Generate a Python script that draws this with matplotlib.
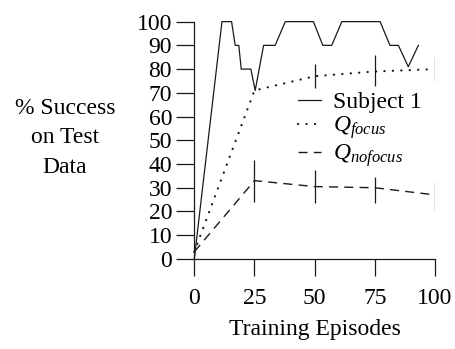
import matplotlib
matplotlib.use("Agg")
import matplotlib.pyplot as plt

plt.rcParams["font.family"] = ["Liberation Serif", "DejaVu Serif"]
plt.rcParams["mathtext.fontset"] = "custom"
plt.rcParams["mathtext.rm"] = "Liberation Serif"
plt.rcParams["mathtext.it"] = "Liberation Serif:italic"

# Subject 1 (solid)
subj_x = [0, 11.5, 15.5, 17, 18.5, 19.5, 23.5, 25.3, 28.8, 33.6, 37.8,
          49.5, 53.4, 57.1, 61.3, 77.2, 81.3, 84.8, 88.9, 93.1]
subj_y = [0, 100, 100, 90, 90, 80, 80, 71, 90, 90, 100,
          100, 90, 90, 100, 100, 90, 90, 81, 90]

# Q_focus (dotted)
focus_x = [0, 25, 50, 75, 100]
focus_y = [3, 71, 77, 79, 80]
focus_err_x = [50, 75, 100]
focus_err_lo = [72, 73, 75]
focus_err_hi = [82, 86, 85]

# Q_nofocus (dashed)
nofocus_x = [0, 25, 50, 75, 100]
nofocus_y = [3, 33, 30.5, 30, 27]
nofocus_err_lo = [24, 23.5, 23.5, 20.5]
nofocus_err_hi = [41.5, 37.5, 34.5, 32.5]

fig = plt.figure(figsize=(4.55, 3.49), dpi=100)
ax = fig.add_axes([0.427, 0.258, 0.529, 0.68])

c = "#1a1a1a"
ax.plot(subj_x, subj_y, color=c, lw=0.9, clip_on=False, label="Subject 1")
ax.plot(focus_x, focus_y, color=c, lw=1.6, linestyle=(0, (0.1, 3.7)),
        dash_capstyle="round", clip_on=False, label="$Q_{focus}$")
ax.plot(nofocus_x, nofocus_y, color=c, lw=1.0, linestyle=(0, (6.5, 4.5)),
        clip_on=False, label="$Q_{nofocus}$")

ax.vlines(focus_err_x, focus_err_lo, focus_err_hi, color=c, lw=0.9)
ax.vlines(nofocus_x[1:], nofocus_err_lo, nofocus_err_hi, color=c, lw=0.9)

ax.set_xlim(0, 100)
ax.set_ylim(0, 100)
ax.set_xticks([0, 25, 50, 75, 100])
ax.set_yticks(range(0, 101, 10))
for s in ["top", "right"]:
    ax.spines[s].set_visible(False)
for s in ["left", "bottom"]:
    ax.spines[s].set_linewidth(0.9)
    ax.spines[s].set_color(c)
ax.tick_params(axis="y", direction="out", length=13, width=0.9, pad=3,
               labelsize=17, color=c)
ax.tick_params(axis="x", direction="out", length=12, width=0.9, pad=9,
               labelsize=17, color=c)

ax.set_xlabel("Training Episodes", fontsize=17, labelpad=7)
fig.text(0.143, 0.605, "% Success\non Test\nData", fontsize=17,
         ha="center", va="center", multialignment="center", linespacing=1.55)

ax.legend(loc="upper left", bbox_to_anchor=(0.43, 0.705), frameon=False,
          fontsize=17, handlelength=1.0, handletextpad=0.5,
          borderpad=0, borderaxespad=0, labelspacing=0.05)

fig.savefig("out.png", dpi=100)
